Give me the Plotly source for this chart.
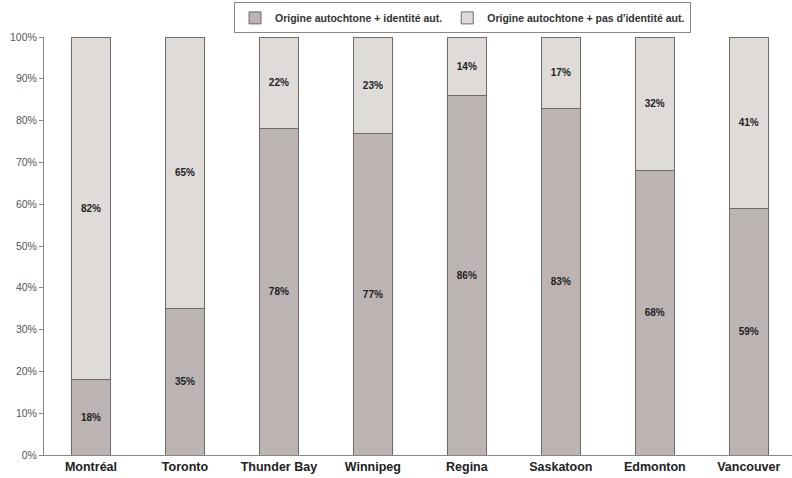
import plotly.graph_objects as go

cities = ["Montréal", "Toronto", "Thunder Bay", "Winnipeg", "Regina", "Saskatoon", "Edmonton", "Vancouver"]
identite_aut = [18, 35, 78, 77, 86, 83, 68, 59]
pas_identite_aut = [82, 65, 22, 23, 14, 17, 32, 41]
y_ticks = [0, 10, 20, 30, 40, 50, 60, 70, 80, 90, 100]

dark = "#bcb4b2"
light = "#dfdbd9"
edge = "#6e6a6a"
label_font = dict(family="Arial", size=10, color="#222222", weight="bold")

fig = go.Figure()
fig.add_trace(go.Bar(
    x=cities, y=identite_aut, name="Origine autochtone + identité aut.",
    marker=dict(color=dark, line=dict(color=edge, width=1)),
    text=[f"{v}%" for v in identite_aut], textposition="inside",
    insidetextanchor="middle", textfont=label_font,
    width=0.41,
))
fig.add_trace(go.Bar(
    x=cities, y=pas_identite_aut, name="Origine autochtone + pas d'identité aut.",
    marker=dict(color=light, line=dict(color=edge, width=1)),
    text=[f"{v}%" for v in pas_identite_aut], textposition="inside",
    insidetextanchor="middle", textfont=label_font,
    width=0.41,
))

fig.update_layout(
    barmode="stack",
    width=792, height=478,
    margin=dict(l=44, r=0, t=37, b=23, autoexpand=False),
    paper_bgcolor="white", plot_bgcolor="white",
    font=dict(family="Arial", color="#333333"),
    showlegend=True,
    legend=dict(
        orientation="h", x=0.584, xanchor="center", xref="container",
        y=0.995, yanchor="top", yref="container",
        bordercolor="#888888", borderwidth=1, bgcolor="white",
        font=dict(family="Arial", size=10.5, color="#333333", weight="bold"),
        itemwidth=30, traceorder="normal", tracegroupgap=0,
    ),
    uniformtext=dict(mode="show", minsize=9),
)
fig.update_xaxes(
    range=[-0.5, 7.46], showline=True, linecolor="#888888", linewidth=1,
    ticks="", tickfont=dict(family="Arial", size=12.5, color="#222222", weight="bold"),
)
fig.update_yaxes(
    range=[0, 100], tickvals=y_ticks, ticktext=[f"{v}%" for v in y_ticks],
    showline=True, linecolor="#888888", linewidth=1, ticks="outside",
    ticklen=4, tickcolor="#888888", showgrid=False, zeroline=False,
    tickfont=dict(family="Arial", size=10.5, color="#555555"),
)

fig.write_html("out.html")
